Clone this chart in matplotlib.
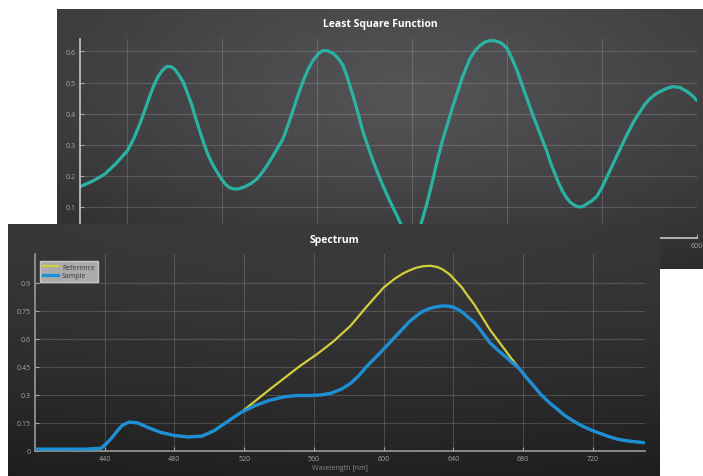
import numpy as np
import matplotlib
matplotlib.use("Agg")
import matplotlib.pyplot as plt

plt.rcParams['font.family'] = ['Open Sans', 'DejaVu Sans']

# ---------------- data: Least Square Function ----------------
lsf_x = [-50, -36, -23.7, -12, 0, 7, 13.2, 18.5, 23.7, 28, 32.2, 37, 41.7, 46, 50.1,
         54, 58.5, 63, 68.0, 72, 76.4, 80.5, 84.8, 89.5, 94.3, 98.5, 102.8, 107,
         111.2, 117, 123.8, 130, 136.5, 143, 150.2, 157, 163.9, 169, 174.4, 179.5,
         184.9, 190, 195.5, 201, 206.0, 211, 216.5, 222, 227.1, 232, 237.6, 243,
         248.1, 253.5, 258.7, 264, 269.2, 276.5, 284.0, 290, 296.6, 302, 308.2, 315,
         321.9, 327, 332.4, 338, 343.0, 348, 352.4, 357, 360.9, 366, 371.4, 376.5,
         381.9, 387, 392.5, 396, 399.8, 405, 410.4, 415.5, 420.9, 426, 431.4, 437,
         442.0, 446, 450.4, 454.5, 458.8, 462.5, 466.2, 470.5, 474.6, 479.5, 484.1,
         489.5, 494.7, 500, 505.2, 510.5, 515.7, 521.5, 527.3, 533.5, 540.0, 545,
         550.5, 556, 561.0, 568, 574.7, 582, 589.5, 595, 600]
lsf_y = [0.165, 0.184, 0.206, 0.240, 0.281, 0.322, 0.368, 0.413, 0.458, 0.492, 0.519,
         0.540, 0.552, 0.551, 0.542, 0.525, 0.503, 0.468, 0.426, 0.384, 0.342, 0.304,
         0.268, 0.238, 0.213, 0.192, 0.174, 0.163, 0.158, 0.158, 0.165, 0.175, 0.190,
         0.215, 0.248, 0.283, 0.319, 0.362, 0.410, 0.458, 0.503, 0.541, 0.571, 0.592,
         0.603, 0.602, 0.594, 0.578, 0.555, 0.513, 0.458, 0.400, 0.342, 0.293, 0.248,
         0.206, 0.168, 0.118, 0.071, 0.032, 0.003, 0.008, 0.035, 0.105, 0.190, 0.257,
         0.319, 0.375, 0.426, 0.472, 0.513, 0.549, 0.577, 0.602, 0.619, 0.630, 0.635,
         0.634, 0.629, 0.622, 0.610, 0.578, 0.539, 0.494, 0.448, 0.404, 0.361, 0.317,
         0.277, 0.240, 0.206, 0.175, 0.148, 0.130, 0.116, 0.106, 0.100, 0.101, 0.110,
         0.120, 0.135, 0.163, 0.197, 0.231, 0.265, 0.302, 0.339, 0.375, 0.406, 0.430,
         0.448, 0.462, 0.471, 0.481, 0.487, 0.484, 0.471, 0.458, 0.442]
lsf_yticks = [0.1, 0.2, 0.3, 0.4, 0.5, 0.6]
lsf_xticks = [0, 100, 200, 300, 400, 500, 600]

# ---------------- data: Spectrum ----------------
wl_ref = [400, 410, 420, 430, 438, 441, 444, 447, 450, 454, 459, 465, 472, 480, 488,
          496, 503, 510, 518, 526, 534, 543, 552, 562, 571, 581, 590, 600, 606, 611,
          615, 619, 623, 627, 631, 634, 638, 641, 645, 648, 652, 655, 658, 661, 665,
          669, 673, 678, 682, 686, 690, 695, 700, 704, 709, 714, 719, 724, 729, 734,
          738, 742, 746, 749]
reference = [0.01, 0.01, 0.01, 0.01, 0.015, 0.04, 0.07, 0.105, 0.137, 0.155, 0.15,
             0.125, 0.10, 0.083, 0.075, 0.08, 0.11, 0.155, 0.205, 0.265, 0.325, 0.39,
             0.455, 0.52, 0.585, 0.67, 0.77, 0.875, 0.92, 0.95, 0.968, 0.982, 0.99,
             0.992, 0.985, 0.972, 0.945, 0.915, 0.875, 0.835, 0.785, 0.74, 0.695,
             0.65, 0.6, 0.55, 0.5, 0.44, 0.393, 0.35, 0.305, 0.26, 0.222, 0.19, 0.16,
             0.134, 0.113, 0.095, 0.078, 0.064, 0.057, 0.052, 0.048, 0.045]
wl_smp = [400, 410, 420, 430, 438, 441, 444, 447, 450, 454, 459, 465, 472, 480, 488,
          496, 503, 510, 518, 526, 534, 543, 550, 557, 564, 570, 576, 581, 586, 590,
          595, 600, 604, 608, 612, 615, 619, 622, 626, 630, 634, 637, 640, 643, 646,
          648, 652, 655, 658, 661, 665, 670, 674, 678, 682, 686, 690, 695, 700, 704,
          709, 714, 719, 724, 729, 734, 738, 742, 746, 749]
sample = [0.01, 0.01, 0.01, 0.01, 0.015, 0.04, 0.07, 0.105, 0.137, 0.155, 0.15, 0.125,
          0.10, 0.083, 0.075, 0.08, 0.11, 0.155, 0.205, 0.242, 0.27, 0.29, 0.297,
          0.297, 0.30, 0.31, 0.332, 0.362, 0.405, 0.45, 0.497, 0.545, 0.585, 0.625,
          0.665, 0.695, 0.725, 0.745, 0.762, 0.772, 0.777, 0.776, 0.77, 0.757, 0.738,
          0.72, 0.69, 0.655, 0.618, 0.58, 0.545, 0.505, 0.472, 0.44, 0.393, 0.35,
          0.305, 0.26, 0.222, 0.19, 0.16, 0.134, 0.113, 0.095, 0.078, 0.064, 0.057,
          0.052, 0.048, 0.045]
spec_yticks = [0, 0.15, 0.3, 0.45, 0.6, 0.75, 0.9]
spec_ylabels = ["0", "0.15", "0.3", "0.45", "0.6", "0.75", "0.9"]
spec_xticks = [440, 480, 520, 560, 600, 640, 680, 720]

W, H = 703, 477
fig = plt.figure(figsize=(W / 100, H / 100), dpi=100)
fig.patch.set_facecolor('white')


def rect(x0, y0, x1, y1):
    return [x0 / W, 1 - y1 / H, (x1 - x0) / W, (y1 - y0) / H]


def gradient_bg(ax, kind):
    ny, nx = 120, 200
    yy, xx = np.mgrid[0:1:ny * 1j, 0:1:nx * 1j]
    if kind == 'up':
        d = np.sqrt(((xx - 0.55) / 0.7) ** 2 + ((yy - 0.35) / 0.9) ** 2)
        v = 0.34 - 0.12 * np.clip(d, 0, 1) - 0.05 * yy ** 2
    else:
        v = 0.21 - 0.10 * yy ** 1.5 + 0.02 * np.exp(-((xx - 0.5) / 0.5) ** 2)
    img = np.dstack([v, v, v * 1.03])
    ax.imshow(np.clip(img, 0, 1), aspect='auto', extent=[0, 1, 1, 0])
    ax.set_xlim(0, 1)
    ax.set_ylim(1, 0)
    ax.axis('off')


grid_kw = dict(color='white', alpha=0.16, linewidth=0.8)
tick_col = '#a8a8a8'

# ---- upper panel ----
bg1 = fig.add_axes(rect(57, 10, 703, 270))
gradient_bg(bg1, 'up')
bg1.set_zorder(1)
fig.text(380 / W, 1 - 24 / H, 'Least Square Function', color='white', fontsize=7.5,
         fontweight='bold', ha='center', va='center', zorder=10)

ax1 = fig.add_axes(rect(80, 40, 697, 239))
ax1.set_zorder(2)
ax1.patch.set_alpha(0)
ax1.plot(lsf_x, lsf_y, color='#2ab3a3', linewidth=2.3, solid_capstyle='round',
         solid_joinstyle='round')
ax1.set_xlim(-50, 600)
ax1.set_ylim(0, 0.64)
ax1.set_yticks(lsf_yticks)
ax1.set_yticklabels([f'{v:.1f}' for v in lsf_yticks])
ax1.set_xticks(lsf_xticks)
# labels under the lower panel are hidden there; only the last one shows
ax1.set_xticklabels(['' for v in lsf_xticks[:-1]] + [str(lsf_xticks[-1])])
ax1.grid(True, **grid_kw)
for s in ['top', 'right']:
    ax1.spines[s].set_visible(False)
for s in ['left', 'bottom']:
    ax1.spines[s].set_color('#c8c8c8')
    ax1.spines[s].set_linewidth(1.2)
ax1.tick_params(colors=tick_col, labelsize=5, length=3, width=0.8, direction='in', pad=3)

# ---- lower panel ----
bg2 = fig.add_axes(rect(8, 225, 660, 477))
gradient_bg(bg2, 'low')
bg2.set_zorder(3)
fig.text(334 / W, 1 - 241 / H, 'Spectrum', color='white', fontsize=7.5,
         fontweight='bold', ha='center', va='center', zorder=10)

ax2 = fig.add_axes(rect(35, 255, 645, 452))
ax2.set_zorder(4)
ax2.patch.set_alpha(0)
ax2.plot(wl_ref, reference, color='#d2cf3c', linewidth=1.6, label='Reference', zorder=3,
         solid_joinstyle='round')
ax2.plot(wl_smp, sample, color='#1e8fd4', linewidth=2.4, label='Sample', zorder=4,
         solid_joinstyle='round')
ax2.set_xlim(400, 750)
ax2.set_ylim(0, 1.055)
ax2.set_yticks(spec_yticks)
ax2.set_yticklabels(spec_ylabels)
ax2.set_xticks(spec_xticks)
ax2.set_xticklabels([str(v) for v in spec_xticks])
ax2.grid(True, **grid_kw)
for s in ['top', 'right']:
    ax2.spines[s].set_visible(False)
for s in ['left', 'bottom']:
    ax2.spines[s].set_color('#9a9a9a')
    ax2.spines[s].set_linewidth(1.2)
ax2.tick_params(colors=tick_col, labelsize=5, length=3, width=0.8, direction='in', pad=3)
ax2.set_xlabel('Wavelength [nm]', color='#8a8a8a', fontsize=5, labelpad=1)
leg = ax2.legend(loc='upper left', bbox_to_anchor=(0.008, 0.965), fontsize=5,
                 frameon=True, fancybox=False, handlelength=2.2, borderpad=0.4,
                 labelspacing=0.2, handletextpad=0.6, borderaxespad=0)
leg.get_frame().set_facecolor('#b9b9b9')
leg.get_frame().set_edgecolor('#d0d0d0')
leg.get_frame().set_alpha(0.9)
for t in leg.get_texts():
    t.set_color('#3a3a3a')

fig.savefig('out.png', dpi=100, facecolor='white')
